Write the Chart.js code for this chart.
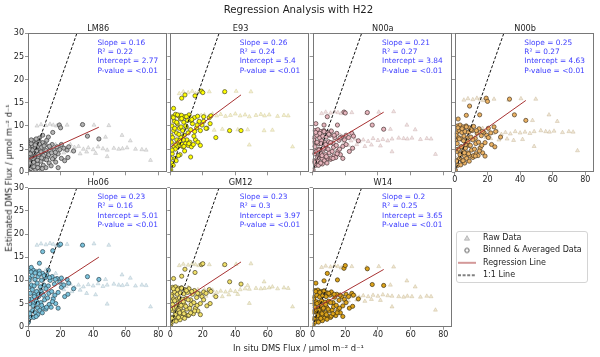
<!DOCTYPE html>
<html><head><meta charset="utf-8">
<script src="https://cdn.jsdelivr.net/npm/chart.js@4.4.1/dist/chart.umd.min.js"></script>
<style>
html,body{margin:0;padding:0;background:#fff;}
#fig{position:relative;width:600px;height:357px;overflow:hidden;font-family:"DejaVu Sans",sans-serif;background:#fff;}
.t{position:absolute;white-space:nowrap;line-height:1;}
canvas{position:absolute;}
</style></head><body><div id="fig"></div>
<script>
// ---------------- data ----------------
const PANELS = ['LM86','E93','N00a','N00b','Ho06','GM12','W14'];
const SLOPES = [0.16,0.26,0.21,0.25,0.23,0.23,0.2];
const R2 = [0.22,0.24,0.27,0.27,0.16,0.3,0.25];
const INTERCEPTS = [2.77,5.4,3.84,4.63,5.01,3.97,3.65];
const PVALUES = ['<0.01','<0.01','<0.01','<0.01','<0.01','<0.01','<0.01'];
const REG_X = [0, 43.5];
const ONE_TO_ONE = [0, 30];
const X_TICK_STEP = 20, Y_TICK_STEP = 5;
const X_MAX = 85.5, Y_MAX = 30;
const LEGEND_LABELS = ['Raw Data','Binned & Averaged Data','Regression Line','1:1 Line'];

// raw data (triangles): shared in-situ x, per-model estimated y
const RAW_X = [1.0,2.0,3.0,4.0,5.0,6.0,7.5,9.0,11.0,13.0,15.0,17.0,19.0,
  5.5,8.0,11.0,13.5,15.5,17.5,19.5,24.0,33.0,40.5,49.6,
  47.6,57.7,62.8,
  21.0,23.5,26.0,28.5,31.0,34.0,37.0,40.0,43.0,46.0,48.6,52.7,55.7,58.0,60.8,66.0,69.9,72.5,
  22.0,27.0,32.0,36.0,41.5,
  48.6,75.2];
const RAW_Y_LM86 = [1.5,3.0,4.5,2.0,5.5,3.5,6.0,4.0,6.5,5.0,3.0,6.0,5.5,
  10.0,10.3,10.1,10.4,10.2,10.0,10.3,10.2,10.3,10.2,10.1,
  7.6,8.0,6.8,
  5.8,5.2,6.0,5.4,5.6,5.0,5.3,4.9,5.5,5.1,4.8,5.2,5.0,5.1,5.3,5.0,4.9,4.8,
  4.2,4.5,4.0,4.4,4.1,
  3.4,2.6];
const RAW_Y_E93 = [11.0,6.0,12.0,8.0,10.0,12.5,5.5,11.5,9.0,12.0,7.0,11.0,12.3,
  17.0,17.4,17.2,17.5,17.0,17.3,17.6,17.4,17.3,17.5,17.4,
  9.2,9.0,9.1,
  12.4,12.0,12.6,12.2,12.5,12.1,12.3,12.6,12.2,12.4,12.0,12.3,12.5,12.2,12.4,12.1,12.3,12.2,
  9.4,9.1,9.3,8.9,9.2,
  5.9,5.5];
const RAW_Y_N00A = [2.0,4.0,6.0,3.0,7.5,5.0,8.5,6.0,9.0,7.0,4.5,8.0,6.5,
  12.7,13.0,12.8,13.1,12.9,12.7,13.0,12.9,12.8,13.0,13.1,
  9.3,10.2,9.2,
  7.5,6.8,7.2,6.6,7.0,6.7,7.3,6.9,7.1,6.8,7.2,7.4,7.3,7.2,7.4,7.1,7.3,7.2,
  5.8,6.0,5.6,5.9,5.7,
  4.45,3.9];
const RAW_Y_N00B = [3.0,5.0,8.0,4.0,9.5,6.0,9.0,7.0,10.0,8.0,5.5,9.5,7.5,
  15.6,15.9,15.7,16.0,15.8,15.5,15.9,15.8,15.6,15.9,15.8,
  11.2,12.4,11.0,
  9.0,8.4,8.9,8.2,8.6,8.3,8.8,8.5,8.7,8.4,8.8,9.0,8.8,8.7,8.9,8.6,8.8,8.7,
  7.3,7.0,7.2,6.9,7.1,
  5.6,4.67];
const RAW_Y_HO06 = [4.0,7.0,10.0,5.0,12.0,8.0,11.0,9.0,12.3,10.0,6.5,11.5,9.5,
  17.6,17.9,17.7,18.0,17.8,17.5,17.9,17.8,17.6,17.9,17.6,
  10.2,11.2,10.5,
  9.5,8.7,9.2,8.5,9.0,8.6,9.1,8.8,9.3,8.7,9.0,9.2,9.0,8.9,9.1,8.8,9.0,8.9,
  8.0,7.6,7.9,7.2,6.9,
  4.9,4.3];
const RAW_Y_GM12 = [2.0,4.0,6.5,3.0,8.0,5.0,8.3,6.0,8.5,7.0,4.0,8.0,6.5,
  13.2,13.5,13.3,13.6,13.4,13.2,13.5,13.4,13.3,13.5,13.6,
  8.9,9.7,8.6,
  8.0,7.5,7.9,7.4,7.7,7.5,7.8,7.6,8.0,8.2,8.1,8.3,8.2,8.3,8.4,8.2,8.4,8.3,
  6.6,6.8,6.5,6.9,7.0,
  5.05,4.3];
const RAW_Y_W14 = [1.5,3.5,5.5,2.5,7.0,4.0,7.3,5.0,7.5,6.0,3.0,7.0,5.5,
  12.8,13.1,12.9,13.2,13.0,12.7,13.1,13.0,12.8,13.0,12.9,
  9.0,9.9,8.6,
  6.9,6.5,6.8,6.4,6.7,6.5,6.8,6.6,6.9,6.7,6.6,6.5,6.4,6.6,6.5,6.4,6.6,6.5,
  5.6,5.8,5.5,5.9,5.7,
  4.3,3.6];

// binned & averaged data (circles)
const BIN_X = [0.3,0.8,1.2,1.8,2.3,2.9,3.4,4.0,4.6,5.2,5.9,6.5,7.2,7.9,8.6,9.4,10.2,11.0,12.0,13.0,14.2,15.5,17.0,18.5,
  0.5,1.0,1.5,2.1,2.6,3.2,3.8,4.3,5.0,5.6,6.2,6.9,7.6,8.3,9.0,9.8,10.6,11.5,12.5,13.6,14.8,16.2,17.8,19.5,
  0.2,1.4,2.7,3.9,5.3,6.6,8.0,9.5,11.0,12.8,14.5,16.5,18.5,20.5,22.5,24.5,
  0.6,1.9,3.1,4.4,5.8,7.0,8.4,9.9,11.4,13.2,15.0,16.8,1.1,3.6,6.0,8.8,
  20.5,22.0,24.0,19.2,15.2,9.0,7.0,20.0,33.5,36.5,43.5,25.0,28.0,12.5,5.0,2.0];
const BIN_Y_LM86 = [0.5,1.5,2.5,0.8,3.0,1.2,2.2,3.5,0.6,2.8,1.8,3.2,0.9,2.4,3.8,1.5,2.9,1.0,3.3,2.0,1.4,3.0,2.2,1.0,
  4.0,5.5,6.5,4.5,5.8,6.8,4.2,5.2,6.2,4.8,5.6,6.6,4.4,5.4,6.4,4.6,5.9,6.9,4.1,5.3,6.0,4.7,5.5,4.9,
  3.5,4.0,4.8,3.2,4.6,3.9,4.4,3.6,4.7,3.8,4.2,3.4,4.0,3.0,2.5,3.2,
  5.0,6.2,3.0,5.9,2.6,6.1,3.1,5.7,2.7,5.6,2.9,4.3,2.0,1.2,1.0,0.8,
  6.0,5.2,4.8,10.2,8.6,8.0,7.4,9.6,10.3,7.8,7.2,5.5,4.6,7.6,7.2,7.0];
const BIN_Y_E93 = [0.5,2.0,4.0,1.5,5.5,3.0,6.0,7.0,5.5,6.5,5.8,7.5,6.0,5.5,8.0,6.2,7.0,5.8,6.5,5.5,6.0,7.0,6.5,5.8,
  8.0,10.0,12.0,9.0,11.0,12.5,8.5,10.5,12.2,9.5,11.5,12.3,9.0,10.8,12.0,9.8,11.2,12.4,9.2,10.5,11.8,9.6,11.0,10.2,
  3.0,7.5,9.5,10.8,8.2,9.8,7.0,10.0,8.5,11.2,7.8,10.2,9.0,11.0,9.5,10.5,
  6.5,11.8,5.0,12.4,6.8,11.6,5.6,12.0,6.2,11.4,8.8,12.1,4.8,2.5,3.8,4.6,
  12.0,9.5,11.8,17.5,16.5,16.7,16.0,17.2,17.4,9.0,9.0,12.2,7.5,3.3,3.6,13.8];
const BIN_Y_N00A = [0.5,2.5,4.0,1.5,4.5,2.5,3.5,5.0,2.0,4.0,3.0,4.8,2.5,3.8,5.2,3.0,4.2,2.8,4.5,3.5,3.2,4.6,3.8,3.0,
  6.0,7.5,9.0,6.5,8.0,9.2,6.2,7.4,8.8,6.8,7.8,9.0,6.4,7.6,8.6,6.6,8.0,8.9,6.3,7.5,8.4,6.9,7.6,7.0,
  4.5,5.5,6.5,4.8,6.2,5.2,6.0,5.0,6.4,5.4,5.8,5.0,5.6,6.0,4.5,5.2,
  7.0,8.6,3.2,8.4,3.6,8.8,3.4,8.2,3.1,8.0,4.0,7.4,2.2,1.5,1.8,2.0,
  8.0,7.5,8.4,13.0,10.2,12.0,10.2,12.8,12.9,10.2,9.3,7.8,6.8,3.0,2.0,10.5];
const BIN_Y_N00B = [0.5,2.5,4.5,1.5,5.0,3.0,4.0,5.5,2.5,4.5,3.5,5.2,3.0,4.2,5.8,3.5,4.8,3.2,5.0,4.0,3.6,5.2,4.2,3.5,
  7.0,8.5,10.0,7.5,9.0,10.2,7.2,8.6,9.8,7.8,8.8,10.0,7.4,8.6,9.6,7.6,9.0,9.9,7.3,8.5,9.4,7.9,8.6,8.0,
  5.0,6.2,7.2,5.5,6.8,6.0,6.6,5.8,7.0,6.2,6.5,5.8,6.4,7.5,6.0,5.5,
  8.0,9.6,3.8,9.4,4.2,9.8,4.0,9.2,3.6,9.0,4.6,8.8,2.4,1.6,2.0,2.4,
  9.5,8.5,9.8,16.0,12.4,14.3,12.3,15.3,15.8,12.4,11.2,8.8,7.6,3.5,2.5,11.5];
const BIN_Y_HO06 = [1.0,3.0,5.0,2.0,6.0,3.5,5.0,7.0,3.0,5.5,4.0,6.5,3.5,5.2,7.2,4.0,5.8,3.8,6.2,4.8,4.2,6.0,5.0,4.0,
  8.5,10.5,12.5,9.0,11.0,12.2,8.8,10.2,11.8,9.4,10.8,12.0,8.6,10.0,11.5,9.0,10.6,11.2,8.8,10.0,10.8,9.2,10.4,9.6,
  6.0,7.2,8.0,6.5,7.6,7.0,7.8,6.8,8.2,7.2,7.6,6.8,7.4,8.5,6.5,7.0,
  10.0,11.8,4.5,11.6,5.0,11.4,4.6,11.0,4.2,10.6,5.4,10.2,2.8,2.0,2.6,3.0,
  10.5,9.0,10.2,17.6,16.4,16.2,13.7,17.8,17.6,10.8,10.2,9.4,8.2,12.2,2.2,12.8];
const BIN_Y_GM12 = [0.5,2.0,3.5,1.2,4.0,2.2,3.0,4.5,1.8,3.6,2.6,4.2,2.0,3.3,4.8,2.6,3.8,2.4,4.0,3.0,2.8,4.0,3.4,2.6,
  5.5,7.0,8.5,6.0,7.5,8.6,5.8,7.0,8.3,6.2,7.3,8.4,5.9,7.1,8.0,6.1,7.4,8.2,5.8,7.0,7.8,6.3,7.1,6.5,
  3.8,4.8,5.6,4.2,5.2,4.6,5.4,4.4,5.8,4.8,5.2,4.6,5.0,5.8,4.5,5.0,
  6.6,8.2,2.6,8.0,3.0,8.3,2.8,7.8,2.5,7.6,3.4,7.2,1.8,1.2,1.5,1.8,
  7.5,7.2,8.0,13.4,11.7,12.4,10.9,13.6,13.4,9.7,9.2,7.6,6.5,3.0,2.0,10.4];
const BIN_Y_W14 = [0.4,1.8,3.2,1.0,3.6,2.0,2.8,4.0,1.6,3.2,2.4,3.8,1.8,3.0,4.2,2.2,3.4,2.0,3.6,2.6,2.4,3.6,3.0,2.2,
  5.0,6.4,7.8,5.4,6.8,7.9,5.2,6.4,7.6,5.6,6.7,7.7,5.3,6.5,7.3,5.5,6.8,7.5,5.2,6.4,7.0,5.7,6.5,5.9,
  3.2,4.2,5.0,3.6,4.6,4.0,4.8,3.8,5.2,4.3,4.6,4.0,4.5,5.2,4.0,4.4,
  6.0,7.6,2.4,7.4,2.8,7.7,2.6,7.2,2.3,7.0,3.0,6.8,1.6,1.0,1.3,1.6,
  7.0,6.5,7.2,12.6,10.1,11.5,9.9,13.2,12.5,9.1,8.9,6.8,6.0,2.8,1.8,9.4];

const RAW_Y = [RAW_Y_LM86,RAW_Y_E93,RAW_Y_N00A,RAW_Y_N00B,RAW_Y_HO06,RAW_Y_GM12,RAW_Y_W14];
const BIN_Y = [BIN_Y_LM86,BIN_Y_E93,BIN_Y_N00A,BIN_Y_N00B,BIN_Y_HO06,BIN_Y_GM12,BIN_Y_W14];

// ---------------- styles & layout ----------------
const RAW_FILL = ['rgba(205,205,205,0.5)','rgba(235,228,165,0.5)','rgba(228,200,200,0.5)','rgba(225,208,175,0.5)','rgba(190,214,224,0.5)','rgba(225,215,165,0.5)','rgba(225,208,165,0.5)'];
const RAW_EDGE = ['rgba(160,160,160,0.55)','rgba(195,185,120,0.55)','rgba(185,150,150,0.55)','rgba(180,160,120,0.55)','rgba(140,172,186,0.55)','rgba(185,175,120,0.55)','rgba(185,165,120,0.55)'];
const BIN_FILL = ['#b4b4b4','#ffff00','#e6b5bd','#e9b163','#7cc3dc','#f0e06a','#dba21a'];
const BIN_EDGE = ['#3a3a3a','#4a4a2a','#4a3636','#4a3a24','#2c4652','#4a4424','#3f3010'];
const COL_L = [28, 170.3, 312.6, 454.9];
const ROW_T = [33.3, 187.7];
const PW = 140.5, PH = 139;
const SPINE = '#787878', TICKC = '#1e1e1e';

Chart.defaults.font.family = "'DejaVu Sans', sans-serif";
Chart.defaults.animation = false;

const fig = document.getElementById('fig');

function addText(txt, x, y, size, color, extra) {
  const d = document.createElement('div');
  d.className = 't';
  d.textContent = txt;
  d.style.left = x + 'px';
  d.style.top = y + 'px';
  d.style.fontSize = size + 'px';
  d.style.color = color;
  d.style.transform = extra || 'translate(-50%,-50%)';
  fig.appendChild(d);
  return d;
}

const framePlugin = {
  id: 'frame',
  afterDraw(chart) {
    const a = chart.chartArea, ctx = chart.ctx;
    ctx.save();
    ctx.strokeStyle = SPINE;
    ctx.lineWidth = 1;
    const x0 = Math.round(a.left) + 0.5, x1 = Math.round(a.right) - 0.5;
    const y0 = Math.round(a.top) + 0.5, y1 = Math.round(a.bottom) - 0.5;
    ctx.strokeRect(x0, y0, x1 - x0, y1 - y0);
    ctx.restore();
  }
};

PANELS.forEach((name, i) => {
  const r = i < 4 ? 0 : 1, c = i < 4 ? i : i - 4;
  const L = COL_L[c], T = ROW_T[r];
  const showY = c === 0, showX = (r === 1 || c === 3);
  const A = showY ? 28 : 4, D = showX ? 14 : 4;
  const cx = Math.max(0, Math.floor(L - A - 1));
  const cy = Math.floor(T - 7);
  const cw = Math.ceil(L + PW + 3) - cx;
  const ch = Math.ceil(T + PH + D + 6) - cy;
  const canvas = document.createElement('canvas');
  canvas.width = cw; canvas.height = ch;
  canvas.style.left = cx + 'px'; canvas.style.top = cy + 'px';
  fig.appendChild(canvas);
  const pad = { left: L - A - cx, top: T - cy, right: cx + cw - (L + PW), bottom: cy + ch - (T + PH + D) };

  const raw = RAW_X.map((x, k) => ({ x, y: RAW_Y[i][k] }));
  const bin = BIN_X.map((x, k) => ({ x, y: BIN_Y[i][k] }));
  const reg = REG_X.map(x => ({ x, y: INTERCEPTS[i] + SLOPES[i] * x }));
  const diag = ONE_TO_ONE.map(v => ({ x: v, y: v }));

  new Chart(canvas, {
    type: 'scatter',
    data: { datasets: [
      { label: 'Regression Line', data: reg, showLine: true, pointRadius: 0, borderColor: '#a83232', borderWidth: 1, fill: false, order: 0 },
      { label: '1:1 Line', data: diag, showLine: true, pointRadius: 0, borderColor: '#111', borderWidth: 1, borderDash: [3, 1.8], fill: false, order: 0 },
      { label: 'Binned & Averaged Data', data: bin, pointStyle: 'circle', pointRadius: 2.1, pointBorderWidth: 0.7,
        backgroundColor: BIN_FILL[i], borderColor: BIN_EDGE[i], pointBackgroundColor: BIN_FILL[i], pointBorderColor: BIN_EDGE[i], order: 1 },
      { label: 'Raw Data', data: raw, pointStyle: 'triangle', pointRadius: 2.3, pointBorderWidth: 0.6,
        backgroundColor: RAW_FILL[i], borderColor: RAW_EDGE[i], pointBackgroundColor: RAW_FILL[i], pointBorderColor: RAW_EDGE[i], order: 2 }
    ]},
    options: {
      responsive: false, animation: false, events: [],
      layout: { padding: pad },
      plugins: { legend: { display: false }, tooltip: { enabled: false }, title: { display: false } },
      scales: {
        x: { type: 'linear', position: 'bottom', min: 0, max: X_MAX,
          ticks: { display: showX, stepSize: X_TICK_STEP, includeBounds: false, autoSkip: false, maxRotation: 0, padding: 0, color: TICKC, font: { size: 8 } },
          grid: { display: true, drawOnChartArea: false, drawTicks: true, tickLength: 3, color: SPINE, lineWidth: 0.8 },
          border: { display: false },
          afterFit: s => { s.height = D; } },
        y: { type: 'linear', position: 'left', min: 0, max: Y_MAX,
          ticks: { display: showY, stepSize: Y_TICK_STEP, includeBounds: false, autoSkip: false, padding: 1, color: TICKC, font: { size: 8 } },
          grid: { display: true, drawOnChartArea: false, drawTicks: true, tickLength: 3, color: SPINE, lineWidth: 0.8 },
          border: { display: false },
          afterFit: s => { s.width = A; } }
      }
    },
    plugins: [framePlugin]
  });

  addText(name, L + PW / 2, T - 5.3, 8.2, '#1e1e1e');
  const lines = ['Slope = ' + SLOPES[i], 'R\u00B2 = ' + R2[i], 'Intercept = ' + INTERCEPTS[i], 'P-value = ' + PVALUES[i]];
  lines.forEach((s, k) => addText(s, L + 69.4, T + 9.4 + 9.33 * k, 7.4, 'rgba(20,20,255,0.85)', 'translate(0,-50%)'));
});

addText('Regression Analysis with H22', 298.5, 10, 10.2, '#1e1e1e');
addText('In situ DMS Flux / \u00B5mol m\u207B\u00B2 d\u207B\u00B9', 298.5, 347.7, 8.4, '#1e1e1e');
addText('Estimated DMS Flux / \u00B5mol m\u207B\u00B2 d\u207B\u00B9', 9, 178, 8.4, '#1e1e1e', 'translate(-50%,-50%) rotate(-90deg)');

// ---------------- legend ----------------
const frame = document.createElement('div');
frame.style.cssText = 'position:absolute;left:456px;top:231px;width:130px;height:50px;border:1px solid #d4d4d4;border-radius:3px;background:rgba(255,255,255,0.8);';
fig.appendChild(frame);

function marker(draw) {
  const m = document.createElement('canvas');
  m.width = 24; m.height = 10;
  draw(m.getContext('2d'));
  return m;
}
const MARKERS = [
  marker(g => { g.fillStyle = 'rgba(200,200,200,0.7)'; g.strokeStyle = 'rgba(140,140,140,0.8)'; g.lineWidth = 0.6;
    g.beginPath(); g.moveTo(12, 2.6); g.lineTo(14.6, 7.2); g.lineTo(9.4, 7.2); g.closePath(); g.fill(); g.stroke(); }),
  marker(g => { g.fillStyle = '#fff'; g.strokeStyle = '#333'; g.lineWidth = 0.8;
    g.beginPath(); g.arc(12, 5, 2.2, 0, Math.PI * 2); g.fill(); g.stroke(); }),
  marker(g => { g.strokeStyle = '#a83232'; g.lineWidth = 1; g.beginPath(); g.moveTo(3, 5); g.lineTo(21, 5); g.stroke(); }),
  marker(g => { g.strokeStyle = '#000'; g.lineWidth = 1; g.setLineDash([3, 1.6]); g.beginPath(); g.moveTo(3, 5); g.lineTo(21, 5); g.stroke(); })
];

const lc = document.createElement('canvas');
lc.width = 140; lc.height = 124;
lc.style.left = '450px'; lc.style.top = '229px';
fig.appendChild(lc);
new Chart(lc, {
  type: 'scatter',
  data: { datasets: LEGEND_LABELS.map(l => ({ label: l, data: [] })) },
  options: {
    responsive: false, animation: false, events: [],
    layout: { padding: { left: 0.6, top: 0.6 } },
    scales: { x: { display: false }, y: { display: false } },
    plugins: {
      tooltip: { enabled: false },
      legend: {
        display: true, position: 'top', align: 'start',
        labels: {
          usePointStyle: true, pointStyleWidth: 24, padding: 4.4, color: '#1e1e1e', font: { size: 8 },
          generateLabels: () => LEGEND_LABELS.map((t, k) => ({
            text: t, pointStyle: MARKERS[k], fillStyle: 'rgba(0,0,0,0)', strokeStyle: 'rgba(0,0,0,0)',
            lineWidth: 0, hidden: false, datasetIndex: k, fontColor: '#1e1e1e'
          }))
        }
      }
    }
  }
});
</script>
</body></html>
